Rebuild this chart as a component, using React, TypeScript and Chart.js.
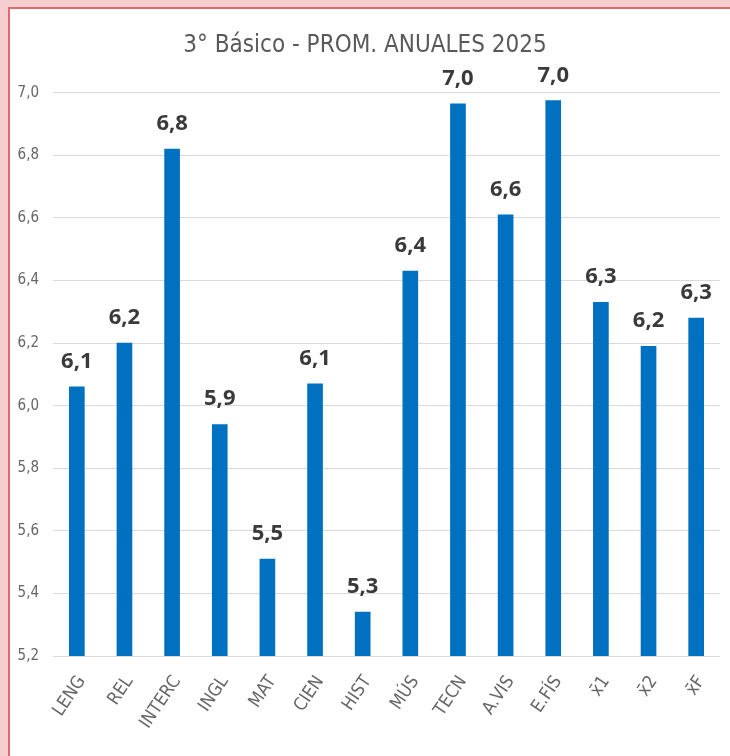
import React, { useEffect, useRef } from "react";
import { Chart, registerables } from "chart.js";

Chart.register(...registerables);

const chartTitle = "3° Básico - PROM. ANUALES 2025";
const categories = [
  "LENG", "REL", "INTERC", "INGL", "MAT", "CIEN", "HIST",
  "MÚS", "TECN", "A.VIS", "E.FÍS", "x̄1", "x̄2", "x̄F",
];
const averages = [6.06, 6.2, 6.82, 5.94, 5.51, 6.07, 5.34, 6.43, 6.965, 6.61, 6.975, 6.33, 6.19, 6.28];
const yTicks = [5.2, 5.4, 5.6, 5.8, 6.0, 6.2, 6.4, 6.6, 6.8, 7.0];

const NARROW = '"Liberation Sans Narrow", "DejaVu Sans Condensed", "Liberation Sans", sans-serif';
const fmt = (v: number) => v.toFixed(1).replace(".", ",");

const dataLabelPlugin = {
  id: "dataLabels",
  afterDatasetsDraw(chart: any) {
    const ctx = chart.ctx;
    const meta = chart.getDatasetMeta(0);
    ctx.save();
    ctx.font = 'bold 22px "Noto Sans", sans-serif';
    ctx.fillStyle = "#3a3a3a";
    ctx.textAlign = "center";
    ctx.textBaseline = "alphabetic";
    meta.data.forEach((bar: any, i: number) => {
      ctx.fillText(fmt(averages[i]), bar.x, bar.y - 19);
    });
    ctx.restore();
  },
};

export default function App() {
  const ref = useRef<HTMLCanvasElement | null>(null);

  useEffect(() => {
    if (!ref.current) return;
    const chart = new Chart(ref.current, {
      type: "bar",
      data: {
        labels: categories,
        datasets: [
          {
            data: averages,
            backgroundColor: "#0070C0",
            borderWidth: 0,
            barThickness: 15,
          },
        ],
      },
      options: {
        responsive: false,
        animation: false,
        devicePixelRatio: 1,
        layout: { padding: { left: 0, right: 10, top: 0, bottom: 0 } },
        plugins: {
          legend: { display: false },
          tooltip: { enabled: false },
          title: {
            display: true,
            text: chartTitle,
            color: "#595959",
            font: { family: NARROW, size: 24, weight: "normal", lineHeight: 1.2 },
            padding: { top: 22, bottom: 33 },
          },
        },
        scales: {
          x: {
            grid: { display: false },
            border: { display: false },
            ticks: {
              color: "#666666",
              font: { family: NARROW, size: 18 },
              minRotation: 56,
              maxRotation: 56,
              padding: 8,
              labelOffset: 5,
              autoSkip: false,
            },
            afterFit: (s: any) => {
              s.height = 100;
            },
          },
          y: {
            min: 5.2,
            max: 7.0,
            grid: { color: "#d9d9d9", lineWidth: 1, drawTicks: false },
            border: { display: false },
            ticks: {
              color: "#666666",
              font: { family: NARROW, size: 15 },
              padding: 14,
              callback: (v: any) => fmt(Number(v)),
            },
            afterBuildTicks: (axis: any) => {
              axis.ticks = yTicks.map((v) => ({ value: v }));
            },
            afterFit: (s: any) => {
              s.width = 43;
            },
          },
        },
      },
      plugins: [dataLabelPlugin],
    });
    return () => chart.destroy();
  }, []);

  return (
    <div
      style={{
        position: "absolute",
        left: 0,
        top: 0,
        width: 730,
        height: 756,
        background: "#f5cfcf",
        overflow: "hidden",
      }}
    >
      <div
        style={{
          position: "absolute",
          left: 8,
          top: 7,
          width: 722,
          height: 749,
          borderLeft: "2px solid #e36a6a",
          borderTop: "2px solid #e36a6a",
          background: "#ffffff",
        }}
      >
        <canvas ref={ref} width={720} height={747} style={{ display: "block" }} />
      </div>
    </div>
  );
}
